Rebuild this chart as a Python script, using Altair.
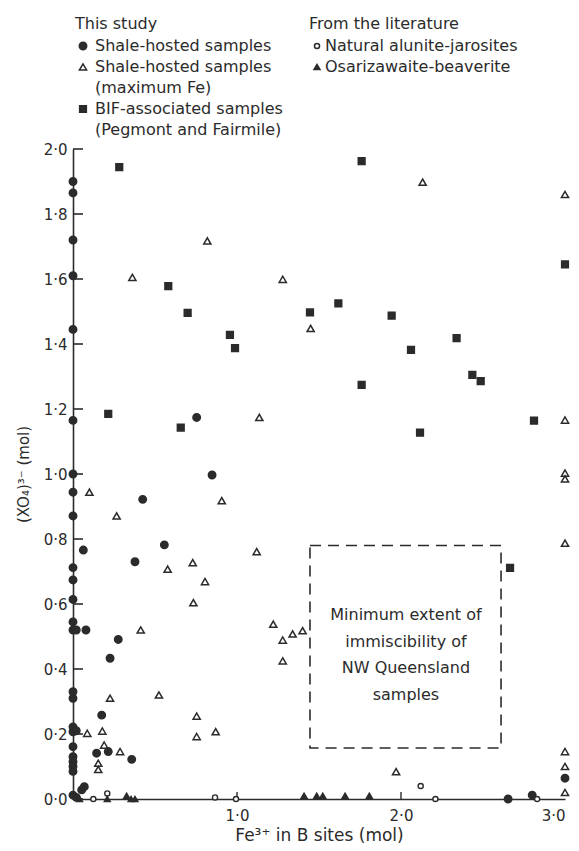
import altair as alt
import pandas as pd

INK = "#2b2b2b"
FONT = "DejaVu Sans"
NONE = "rgba(0,0,0,0)"

# ---- data ----
# This study: shale-hosted samples (filled circles)
shale_x = [0, 0, 0, 0, 0, 0, 0, 0, 0, 0, 0, 0, 0, 0, 0, 0, 0, 0, 0, 0, 0, 0, 0, 0,
           0.02, 0.02, 0.063, 0.079, 0.069, 0.053, 0.02,
           0.754, 0.848, 0.425, 0.557, 0.378, 0.276, 0.226, 0.175, 0.144, 0.215, 0.358,
           2.653, 2.80, 3.0]
shale_y = [1.90, 1.865, 1.72, 1.61, 1.445, 1.165, 1.0, 0.944, 0.871, 0.712, 0.674, 0.614,
           0.545, 0.52, 0.33, 0.31, 0.222, 0.207, 0.161, 0.13, 0.115, 0.10, 0.085, 0.012,
           0.21, 0.52, 0.766, 0.52, 0.038, 0.028, 0.005,
           1.174, 0.997, 0.922, 0.782, 0.730, 0.491, 0.433, 0.258, 0.141, 0.146, 0.122,
           0.0, 0.012, 0.064]

# This study: shale-hosted samples, maximum Fe (open triangles)
maxfe_x = [0.819, 0.362, 1.279, 1.136, 2.132, 3.0, 1.449, 3.0, 3.0, 3.0, 3.0,
           0.10, 0.907, 0.266, 1.12, 0.577, 0.73, 0.805, 0.734, 0.413,
           1.221, 1.279, 1.339, 1.40, 1.279, 0.226, 0.524, 0.754, 0.754, 0.87,
           0.087, 0.179, 0.19, 0.287, 0.154, 0.154, 1.97, 3.0, 3.0, 3.0]
maxfe_y = [1.717, 1.605, 1.599, 1.174, 1.898, 1.86, 1.448, 1.166, 1.003, 0.985, 0.787,
           0.944, 0.918, 0.871, 0.761, 0.707, 0.727, 0.669, 0.604, 0.520,
           0.538, 0.489, 0.508, 0.518, 0.425, 0.31, 0.320, 0.255, 0.192, 0.207,
           0.202, 0.209, 0.166, 0.146, 0.11, 0.091, 0.084, 0.146, 0.10, 0.02]

# This study: BIF-associated samples (filled squares)
bif_x = [0.282, 1.76, 3.0, 0.581, 0.699, 0.957, 0.988, 0.215, 0.657, 1.618, 1.445,
         1.943, 2.339, 2.061, 2.435, 2.486, 1.76, 2.811, 2.116, 2.665]
bif_y = [1.944, 1.963, 1.645, 1.578, 1.496, 1.428, 1.387, 1.185, 1.143, 1.525, 1.497,
         1.487, 1.418, 1.382, 1.305, 1.286, 1.274, 1.164, 1.127, 0.711]

# Literature: natural alunite-jarosites (open circles)
nat_x = [0.124, 0.209, 0.866, 0.994, 2.12, 2.21, 2.83]
nat_y = [0.0, 0.017, 0.005, 0.0, 0.04, 0.0, 0.0]

# Literature: osarizawaite-beaverite (filled triangles)
osa_x = [0.04, 0.209, 0.327, 0.354, 0.378, 1.409, 1.486, 1.523, 1.659, 1.807]
osa_y = [0.0, 0.0, 0.01, 0.0, 0.0, 0.01, 0.01, 0.01, 0.01, 0.01]

# immiscibility box and its text
box_x = [1.445]
box_x2 = [2.61]
box_y = [0.157]
box_y2 = [0.78]
box_text = ["Minimum extent of", "immiscibility of", "NW Queensland", "samples"]
box_text_y = [0.566, 0.483, 0.403, 0.32]
box_text_x = 2.03

y_ticks = [0.0, 0.2, 0.4, 0.6, 0.8, 1.0, 1.2, 1.4, 1.6, 1.8, 2.0]
x_ticks = [1.0, 2.0, 3.0]
x_small_ticks = [1.0, 2.0]

NB = "\u00a0"
S1 = "Shale-hosted samples"
S2 = "Shale-hosted samples" + NB
S2b = NB * 12 + "(maximum Fe)"
S3 = "BIF-associated samples"
S3b = NB * 1 + "(Pegmont and Fairmile)"
L1 = "Natural alunite-jarosites"
L2 = "Osarizawaite-beaverite"

study = pd.concat([
    pd.DataFrame({"x": shale_x, "y": shale_y, "series": S1}),
    pd.DataFrame({"x": maxfe_x, "y": maxfe_y, "series": S2}),
    pd.DataFrame({"x": bif_x, "y": bif_y, "series": S3}),
], ignore_index=True)
lit = pd.concat([
    pd.DataFrame({"x": nat_x, "y": nat_y, "series": L1}),
    pd.DataFrame({"x": osa_x, "y": osa_y, "series": L2}),
], ignore_index=True)

W, H = 492, 650
xs = alt.Scale(domain=[0, 3], nice=False, zero=False)
ys = alt.Scale(domain=[0, 2], nice=False, zero=False)

lab = "replace(format(datum.value, '.1f'), '.', '·')"
x_axis = alt.Axis(
    values=x_ticks, labelExpr=lab, title="Fe³⁺ in B sites (mol)",
    grid=False, ticks=False, tickSize=0, domain=True, domainColor=INK, domainWidth=1.6,
    labelFont=FONT, labelFontSize=15, labelColor=INK, labelPadding=9,
    titleFont=FONT, titleFontSize=17, titleFontWeight="normal", titleColor=INK,
    titlePadding=4)
y_axis = alt.Axis(
    values=y_ticks, labelExpr=lab, title="(XO₄)³⁻ (mol)",
    grid=False, ticks=False, tickSize=0, domain=True, domainColor=INK, domainWidth=1.6,
    labelFont=FONT, labelFontSize=15, labelColor=INK, labelPadding=6,
    titleFont=FONT, titleFontSize=15, titleFontWeight="normal", titleColor=INK,
    titlePadding=12)

# identical axis definitions in every layer, so they merge into one pair of axes
XE = alt.X("x:Q", scale=xs, axis=x_axis)
YE = alt.Y("y:Q", scale=ys, axis=y_axis)

study_dom = [S1, S2, S2b, S3, S3b]
lit_dom = [L1, L2]

def leg(title, lx, ly, offset):
    return alt.Legend(title=title, orient="none", legendX=lx, legendY=ly, direction="vertical",
                      titleFont=FONT, titleFontSize=16, titleFontWeight="normal", titleColor=INK,
                      labelFont=FONT, labelFontSize=16, labelColor=INK, labelOffset=offset,
                      rowPadding=5, titlePadding=6, padding=0, symbolStrokeWidth=1.5,
                      labelLimit=400)

LS = leg("This study", 2, -133, 4)
LL = leg("From the literature", 236, -133, 0)

study_layer = alt.Chart(study).mark_point(strokeWidth=1.5, opacity=1).encode(
    x=XE, y=YE,
    shape=alt.Shape("series:N", scale=alt.Scale(domain=study_dom,
                    range=["circle", "triangle-up", "circle", "square", "circle"]), legend=LS),
    fill=alt.Fill("series:N", scale=alt.Scale(domain=study_dom,
                  range=[INK, NONE, NONE, INK, NONE]), legend=LS),
    stroke=alt.Stroke("series:N", scale=alt.Scale(domain=study_dom,
                      range=[INK, INK, NONE, INK, NONE]), legend=LS),
    size=alt.Size("series:N", scale=alt.Scale(domain=study_dom,
                  range=[55, 42, 0, 60, 0]), legend=LS),
)

lit_layer = alt.Chart(lit).mark_point(strokeWidth=1.4, opacity=1).encode(
    x=XE, y=YE,
    shape=alt.Shape("series:N", scale=alt.Scale(domain=lit_dom, range=["circle", "triangle-up"]),
                    legend=LL),
    fill=alt.Fill("series:N", scale=alt.Scale(domain=lit_dom, range=["white", INK]), legend=LL),
    stroke=alt.Stroke("series:N", scale=alt.Scale(domain=lit_dom, range=[INK, INK]), legend=LL),
    size=alt.Size("series:N", scale=alt.Scale(domain=lit_dom, range=[26, 36]), legend=LL),
)

box = alt.Chart(pd.DataFrame({"x": box_x, "x2": box_x2, "y": box_y, "y2": box_y2})).mark_rect(
    fill=NONE, stroke=INK, strokeWidth=1.6, strokeDash=[11, 7]).encode(
    x=XE, x2="x2:Q", y=YE, y2="y2:Q")

box_txt = alt.Chart(pd.DataFrame({"t": box_text, "y": box_text_y, "x": box_text_x})).mark_text(
    font=FONT, fontSize=16, color=INK, align="center", baseline="middle").encode(
    x=XE, y=YE, text="t:N")

yt = alt.Chart(pd.DataFrame({"y": y_ticks})).mark_rule(color=INK, strokeWidth=1.6).encode(
    y=YE, x=alt.value(0), x2=alt.value(10))
xt = alt.Chart(pd.DataFrame({"x": x_small_ticks})).mark_rule(color=INK, strokeWidth=1.4).encode(
    x=XE, y=alt.value(H), y2=alt.value(H - 7))

chart = alt.layer(box, box_txt, yt, xt, study_layer, lit_layer).resolve_scale(
    shape="independent", fill="independent", stroke="independent", size="independent"
).resolve_legend(
    shape="independent", fill="independent", stroke="independent", size="independent"
).properties(
    width=W, height=H, background="white",
    autosize=alt.AutoSizeParams(type="none"),
    padding={"left": 65, "top": 141, "right": 6, "bottom": 50},
).configure_view(strokeWidth=0, strokeOpacity=0)

chart.save("out.html", embed_options={"renderer": "svg", "actions": False})
